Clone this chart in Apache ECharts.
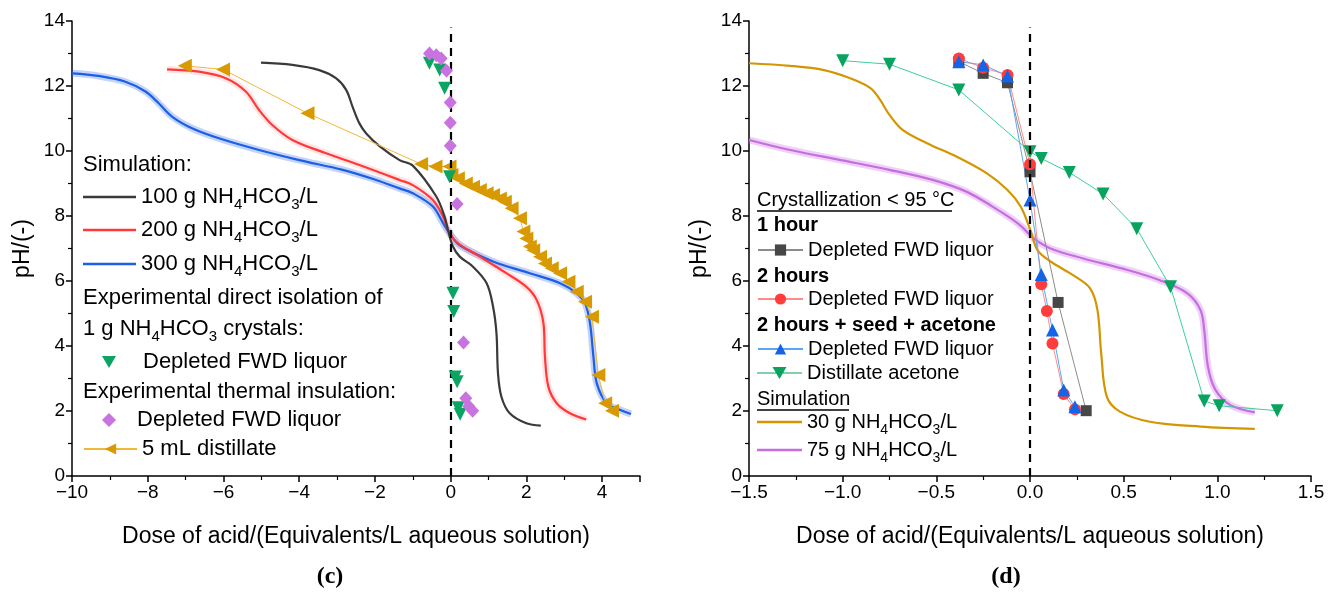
<!DOCTYPE html>
<html>
<head>
<meta charset="utf-8">
</head>
<body style="margin: 0; background: #fff">
<div id="container" style="width: 1338px; height: 597px"></div>
<script src="https://cdn.jsdelivr.net/npm/echarts/dist/echarts.min.js"></script>
<script>
// ---- panel (c): simulated titration curves, [dose, pH]
const sim100 = [[-5.01, 12.72], [-4.18, 12.65], [-3.47, 12.49], [-3.03, 12.24], [-2.76, 11.88], [-2.59, 11.36], [-2.41, 10.85], [-2.23, 10.54], [-1.88, 10.15], [-1.35, 9.72], [-1.0, 9.55], [-0.38, 8.6], [-0.16, 7.98], [-0.07, 7.57], [0.06, 7.06], [0.24, 6.75], [0.59, 6.44], [0.95, 5.93], [1.12, 5.21], [1.21, 4.39], [1.25, 3.16], [1.34, 2.44], [1.56, 1.93], [2.0, 1.62], [2.38, 1.55]];
const sim200 = [[-7.49, 12.51], [-6.65, 12.44], [-5.94, 12.24], [-5.41, 11.83], [-5.06, 11.26], [-4.71, 10.8], [-4.18, 10.34], [-3.29, 9.93], [-2.41, 9.57], [-1.35, 9.11], [-1.0, 8.95], [-0.47, 8.49], [-0.2, 7.98], [-0.07, 7.57], [0.15, 7.2], [0.77, 6.75], [1.47, 6.24], [2.0, 5.82], [2.27, 5.42], [2.45, 4.7], [2.49, 3.67], [2.58, 2.75], [2.8, 2.24], [3.15, 1.93], [3.58, 1.74]];
const sim300 = [[-10, 12.39], [-9.3, 12.31], [-8.59, 12.13], [-8.06, 11.83], [-7.71, 11.47], [-7.36, 11.06], [-6.83, 10.7], [-6.12, 10.39], [-5.06, 10.03], [-4.0, 9.72], [-2.85, 9.42], [-1.97, 9.11], [-1.35, 8.85], [-1.0, 8.7], [-0.47, 8.29], [-0.2, 7.78], [-0.03, 7.47], [0.24, 7.1], [1.12, 6.6], [2.09, 6.24], [2.89, 5.93], [3.33, 5.62], [3.55, 5.31], [3.68, 4.7], [3.77, 3.67], [3.86, 2.85], [4.12, 2.24], [4.48, 2.03], [4.76, 1.91]];
// experimental points (c)
const directFWD = [[-0.56, 12.7], [-0.29, 12.49], [-0.16, 11.93], [-0.03, 9.21], [0.06, 5.62], [0.08, 5.06], [0.12, 3.05], [0.17, 2.9], [0.2, 2.1], [0.25, 1.9]];
const thermalFWD = [[-0.56, 13.0], [-0.38, 12.95], [-0.25, 12.85], [-0.11, 12.47], [-0.01, 11.49], [-0.01, 10.87], [-0.01, 10.16], [0.17, 8.37], [0.34, 4.11], [0.4, 2.39], [0.48, 2.15], [0.58, 2.01]];
const distillate5 = [[-7.02, 12.62], [-6.01, 12.51], [-3.78, 11.16], [-0.78, 9.6], [-0.4, 9.52], [-0.03, 9.52], [0.02, 9.26], [0.19, 9.16], [0.4, 9.0], [0.59, 8.9], [0.77, 8.8], [0.95, 8.7], [1.12, 8.65], [1.3, 8.54], [1.43, 8.44], [1.61, 8.24], [1.83, 7.93], [1.92, 7.52], [2.0, 7.31], [2.09, 7.06], [2.18, 6.95], [2.36, 6.75], [2.49, 6.54], [2.67, 6.39], [2.89, 6.24], [3.11, 5.98], [3.33, 5.67], [3.55, 5.36], [3.73, 4.9], [3.9, 3.11], [4.08, 2.24], [4.26, 2.01]];

// ---- panel (d)
const sim30 = [[-1.5, 12.7], [-1.28, 12.62], [-1.1, 12.49], [-0.96, 12.24], [-0.85, 11.93], [-0.8, 11.57], [-0.75, 11.11], [-0.68, 10.65], [-0.55, 10.24], [-0.39, 9.82], [-0.23, 9.31], [-0.12, 8.8], [-0.05, 8.29], [0.0, 7.6], [0.04, 6.95], [0.11, 6.6], [0.23, 6.18], [0.32, 5.78], [0.36, 5.11], [0.38, 3.78], [0.41, 2.44], [0.48, 1.98], [0.64, 1.67], [0.91, 1.52], [1.2, 1.45]];
const sim75 = [[-1.5, 10.34], [-1.28, 10.03], [-1.01, 9.72], [-0.75, 9.42], [-0.52, 9.11], [-0.34, 8.75], [-0.2, 8.29], [-0.09, 7.88], [-0.04, 7.65], [0.02, 7.31], [0.11, 7.0], [0.28, 6.7], [0.52, 6.34], [0.69, 6.03], [0.84, 5.62], [0.91, 5.11], [0.93, 4.49], [0.95, 3.36], [0.99, 2.65], [1.07, 2.18], [1.2, 1.96]];
const oneHourFWD = [[-0.38, 12.75], [-0.25, 12.39], [-0.12, 12.1], [0.0, 9.36], [0.15, 5.34], [0.3, 2.01]];
const twoHourFWD = [[-0.38, 12.85], [-0.25, 12.56], [-0.12, 12.34], [0.0, 9.59], [0.06, 5.9], [0.09, 5.08], [0.12, 4.08], [0.18, 2.52], [0.24, 2.05]];
const seedFWD = [[-0.38, 12.75], [-0.25, 12.65], [-0.12, 12.31], [0.0, 8.49], [0.06, 6.2], [0.12, 4.49], [0.18, 2.65], [0.24, 2.13]];
const seedAcetone = [[-1.0, 12.78], [-0.75, 12.67], [-0.38, 11.88], [0.0, 9.98], [0.06, 9.77], [0.21, 9.34], [0.39, 8.68], [0.57, 7.61], [0.75, 5.82], [0.93, 2.31], [1.01, 2.16], [1.32, 2.01]];

const yTicks = [0, 2, 4, 6, 8, 10, 12, 14];
const zeroDoseTop = 13.8;

const FONT = 'Liberation Sans';
const NH = (pre) => '{n|' + pre + 'NH}{s|4}{n|HCO}{s|3}{n|/L}';
const DOWN = 'path://M0,0L10,0L5,9Z';
const LINE_DOWN = 'path://M0,5.4L45,5.4L45,6.6L0,6.6Z M15.5,0L29.5,0L22.5,12Z';

let dom = document.getElementById('container');
let myChart = echarts.init(dom);

function xAxisOf(grid, min, max, interval, fmt) {
	return {
		type: 'value', gridIndex: grid, min: min, max: max, interval: interval,
		name: 'Dose of acid/(Equivalents/L aqueous solution)',
		nameLocation: 'middle', nameGap: 49,
		nameTextStyle: { fontFamily: FONT, fontSize: 23, color: '#000' },
		axisLine: { onZero: false, lineStyle: { color: '#000', width: 1.5 } },
		axisTick: { length: 6, lineStyle: { color: '#000', width: 1.5 } },
		minorTick: { show: true, splitNumber: 2, length: 4, lineStyle: { color: '#000', width: 1.2 } },
		axisLabel: { fontFamily: FONT, fontSize: 19, color: '#000', margin: 7, showMaxLabel: grid === 1, formatter: fmt },
		splitLine: { show: false }
	};
}

function yAxisOf(grid) {
	return {
		type: 'value', gridIndex: grid, min: 0, max: 14, interval: 2,
		name: 'pH/(-)', nameLocation: 'middle', nameGap: 38, nameRotate: 90,
		nameTextStyle: { fontFamily: FONT, fontSize: 23, color: '#000' },
		axisLine: { show: true, onZero: false, lineStyle: { color: '#000', width: 1.5 } },
		axisTick: { show: true, length: 6, lineStyle: { color: '#000', width: 1.5 } },
		minorTick: { show: true, splitNumber: 2, length: 4, lineStyle: { color: '#000', width: 1.2 } },
		axisLabel: { fontFamily: FONT, fontSize: 19, color: '#000', margin: 7,
			formatter: v => yTicks.indexOf(v) >= 0 ? String(v) : '' },
		splitLine: { show: false }
	};
}

function zeroLine() {
	return {
		silent: true, symbol: 'none', label: { show: false },
		lineStyle: { color: '#000', width: 2.2, type: [8, 6] },
		data: [[{ coord: [0, 0] }, { coord: [0, zeroDoseTop] }]]
	};
}

const richLegend = (size, pad) => ({
	fontFamily: FONT, fontSize: size, color: '#000', lineHeight: 30, padding: [0, 0, 0, pad || 0],
	rich: {
		n: { fontFamily: FONT, fontSize: size, color: '#000', lineHeight: 30 },
		s: { fontFamily: FONT, fontSize: Math.round(size * 0.68), color: '#000', lineHeight: 30, verticalAlign: 'bottom' }
	}
});

// legend rows: [series name, displayed text, left, centre y, icon width, icon height, icon, font size, text pad]
const legendRows = [
	['c100', NH('100 g '), 83, 197, 53, 2.5, 'rect', 22, 0],
	['c200', NH('200 g '), 83, 230, 53, 2.5, 'rect', 22, 0],
	['c300', NH('300 g '), 83, 264, 53, 2.5, 'rect', 22, 0],
	['cDirect', 'Depleted FWD liquor', 102, 362, 14, 12, DOWN, 22, 22],
	['cThermal', 'Depleted FWD liquor', 102, 420, 14, 14, 'diamond', 22, 16],
	['cDist', '5 mL distillate', 83, 449, 53, 14, null, 22, 0],
	['d1h', 'Depleted FWD liquor', 757, 250, 45, 14, null, 20, 0],
	['d2h', 'Depleted FWD liquor', 757, 299, 45, 14, null, 20, 0],
	['dSeed', 'Depleted FWD liquor', 757, 349, 45, 14, null, 20, 0],
	['dAce', 'Distillate acetone', 757, 373, 45, 12, LINE_DOWN, 20, 0],
	['d30', NH('30 g '), 757, 422, 45, 2.5, 'rect', 20, 0],
	['d75', NH('75 g '), 757, 450, 45, 2.5, 'rect', 20, 0]
];

const legends = legendRows.map(r => ({
	data: [r[6] ? { name: r[0], icon: r[6] } : { name: r[0] }],
	left: r[2], top: r[3] - 15, padding: 0, itemWidth: r[4], itemHeight: r[5],
	selectedMode: false, symbolKeepAspect: false, itemGap: 0,
	formatter: () => r[1], textStyle: richLegend(r[7], r[8])
}));

function txt(x, y, text, size, bold) {
	return {
		type: 'text', x: x, y: y, silent: true,
		style: {
			text: text, verticalAlign: 'middle', fill: '#000',
			font: (bold ? 'bold ' : '') + size + 'px ' + FONT,
			rich: {
				n: { fontFamily: FONT, fontSize: size, lineHeight: 30 },
				s: { fontFamily: FONT, fontSize: Math.round(size * 0.68), lineHeight: 30, verticalAlign: 'bottom' }
			}
		}
	};
}

const graphics = [
	txt(83, 165, 'Simulation:', 22),
	txt(83, 298, 'Experimental direct isolation of', 22),
	txt(83, 329, '{n|1 g NH}{s|4}{n|HCO}{s|3}{n| crystals:}', 22),
	txt(83, 392, 'Experimental thermal insulation:', 22),
	txt(757, 200, 'Crystallization < 95 °C', 20),
	txt(757, 225, '1 hour', 20, true),
	txt(757, 276, '2 hours', 20, true),
	txt(757, 325, '2 hours + seed + acetone', 20, true),
	txt(757, 399, 'Simulation', 20),
	{ type: 'line', silent: true, shape: { x1: 757, y1: 211, x2: 952, y2: 211 }, style: { stroke: '#000', lineWidth: 1.3 } },
	{ type: 'line', silent: true, shape: { x1: 757, y1: 410, x2: 849, y2: 410 }, style: { stroke: '#000', lineWidth: 1.3 } },
	{ type: 'text', x: 330, y: 577, silent: true, style: { text: '(c)', font: 'bold 24px Liberation Serif', fill: '#000', align: 'center', verticalAlign: 'middle' } },
	{ type: 'text', x: 1006, y: 577, silent: true, style: { text: '(d)', font: 'bold 24px Liberation Serif', fill: '#000', align: 'center', verticalAlign: 'middle' } }
];

function simLine(name, grid, data, color, band) {
	const out = [];
	if (band) {
		out.push({ name: name + 'Band', type: 'line', xAxisIndex: grid, yAxisIndex: grid, data: data, smooth: 0.35,
			symbol: 'none', silent: true, lineStyle: { color: band, width: 7 }, z: 1 });
	}
	out.push({ name: name, type: 'line', xAxisIndex: grid, yAxisIndex: grid, data: data, smooth: 0.35,
		symbol: 'none', lineStyle: { color: color, width: 2.2 }, itemStyle: { color: color }, z: 2 });
	return out;
}

function markerLine(name, grid, data, symbol, rotate, size, color, lineColor) {
	return {
		name: name, type: 'line', xAxisIndex: grid, yAxisIndex: grid, data: data,
		symbol: symbol, symbolRotate: rotate, symbolSize: size,
		itemStyle: { color: color }, lineStyle: { color: lineColor, width: 1 }, z: 4
	};
}

const series = [].concat(
	simLine('c300', 0, sim300, '#1a5fe6', 'rgba(60,110,240,0.3)'),
	simLine('c200', 0, sim200, '#ff3838', 'rgba(255,80,80,0.15)'),
	simLine('c100', 0, sim100, '#3a3a3a'),
	[
		{ name: 'cDirect', type: 'scatter', xAxisIndex: 0, yAxisIndex: 0, data: directFWD,
			symbol: 'triangle', symbolRotate: 180, symbolSize: 13, itemStyle: { color: '#0ba463', opacity: 1 }, z: 5,
			markLine: zeroLine() },
		{ name: 'cThermal', type: 'scatter', xAxisIndex: 0, yAxisIndex: 0, data: thermalFWD,
			symbol: 'diamond', symbolSize: [13, 14], itemStyle: { color: '#c873e0', opacity: 1 }, z: 5 },
		markerLine('cDist', 0, distillate5, 'triangle', 90, 14, '#d89a00', '#f0b838')
	],
	simLine('d75', 1, sim75, '#c56ee0', 'rgba(210,120,235,0.35)'),
	simLine('d30', 1, sim30, '#d59500'),
	[
		markerLine('d1h', 1, oneHourFWD, 'rect', 0, 11, '#474747', '#8c8c8c'),
		markerLine('d2h', 1, twoHourFWD, 'circle', 0, 12, '#ff3d3d', '#ff8a8a'),
		markerLine('dSeed', 1, seedFWD, 'triangle', 0, 13, '#1464e8', '#5aa6f0'),
		markerLine('dAce', 1, seedAcetone, 'triangle', 180, 13, '#07a35f', '#3ccf9a')
	]
);
series[series.length - 1].markLine = zeroLine();

let option = {
	animation: false,
	grid: [
		{ left: 72, right: 698, top: 21, bottom: 121 },
		{ left: 749, right: 27, top: 21, bottom: 121 }
	],
	xAxis: [
		xAxisOf(0, -10, 5, 2, v => String(v).replace('-', '\u2212')),
		xAxisOf(1, -1.5, 1.5, 0.5, v => v.toFixed(1).replace('-', '\u2212'))
	],
	yAxis: [yAxisOf(0), yAxisOf(1)],
	legend: legends,
	graphic: graphics,
	series: series
};

myChart.setOption(option);
</script>
</body>
</html>
